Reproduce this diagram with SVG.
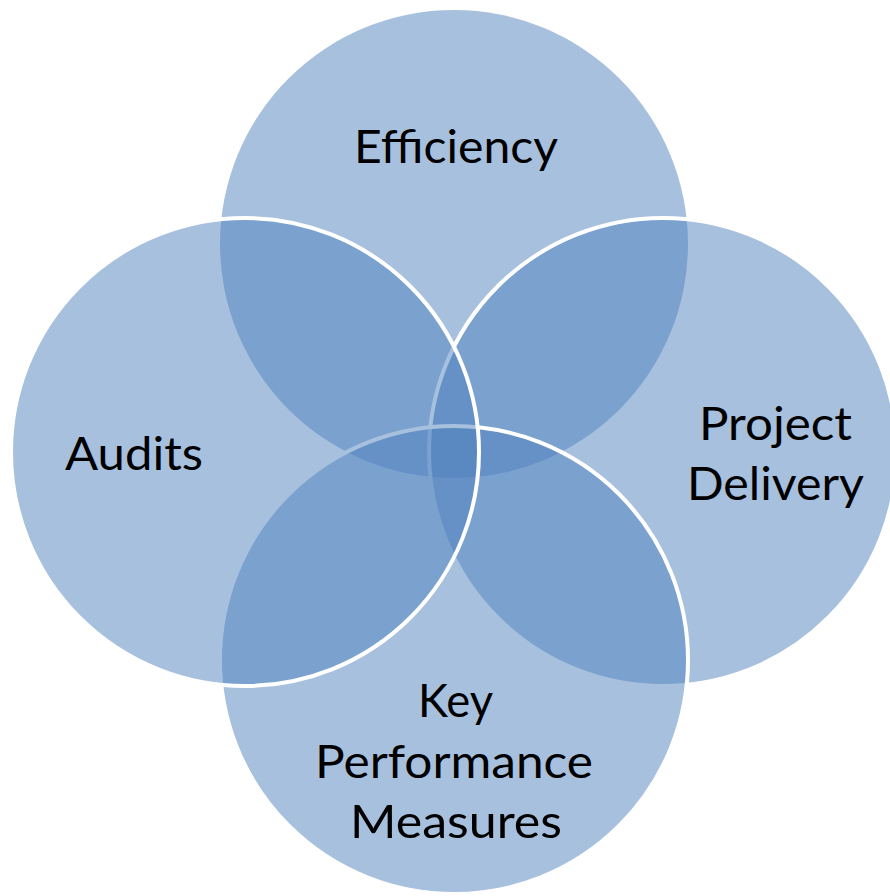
<svg xmlns="http://www.w3.org/2000/svg" width="890" height="896" viewBox="0 0 890 896">
  <style>
    .c { fill: #4F81BD; fill-opacity: 0.5; }
    .s { stroke: #FFFFFF; stroke-width: 4; }
    .t { font-family: Lato, "Open Sans", "Liberation Sans", sans-serif; font-size: 46px; fill: #000000; text-anchor: middle; }
  </style>
  <rect x="0" y="0" width="890" height="896" fill="#FFFFFF"/>
  <g id="node-efficiency">
    <circle class="c" cx="454" cy="244" r="234"/>
    <text class="t" x="456" y="163" textLength="204" lengthAdjust="spacingAndGlyphs">Efficiency</text>
  </g>
  <g id="node-project-delivery">
    <circle class="c s" cx="663" cy="452" r="234"/>
    <text class="t" x="775.5" y="440" textLength="153" lengthAdjust="spacingAndGlyphs">Project</text>
    <text class="t" x="775.5" y="500" textLength="177" lengthAdjust="spacingAndGlyphs">Delivery</text>
  </g>
  <g id="node-kpm">
    <circle class="c s" cx="454" cy="660" r="234"/>
    <text class="t" x="455.5" y="717" textLength="75" lengthAdjust="spacingAndGlyphs">Key</text>
    <text class="t" x="454" y="778" textLength="278" lengthAdjust="spacingAndGlyphs">Performance</text>
    <text class="t" x="456" y="838" textLength="212" lengthAdjust="spacingAndGlyphs">Measures</text>
  </g>
  <g id="node-audits">
    <circle class="c s" cx="245" cy="452" r="234"/>
    <text class="t" x="134" y="470" textLength="138" lengthAdjust="spacingAndGlyphs">Audits</text>
  </g>
</svg>
